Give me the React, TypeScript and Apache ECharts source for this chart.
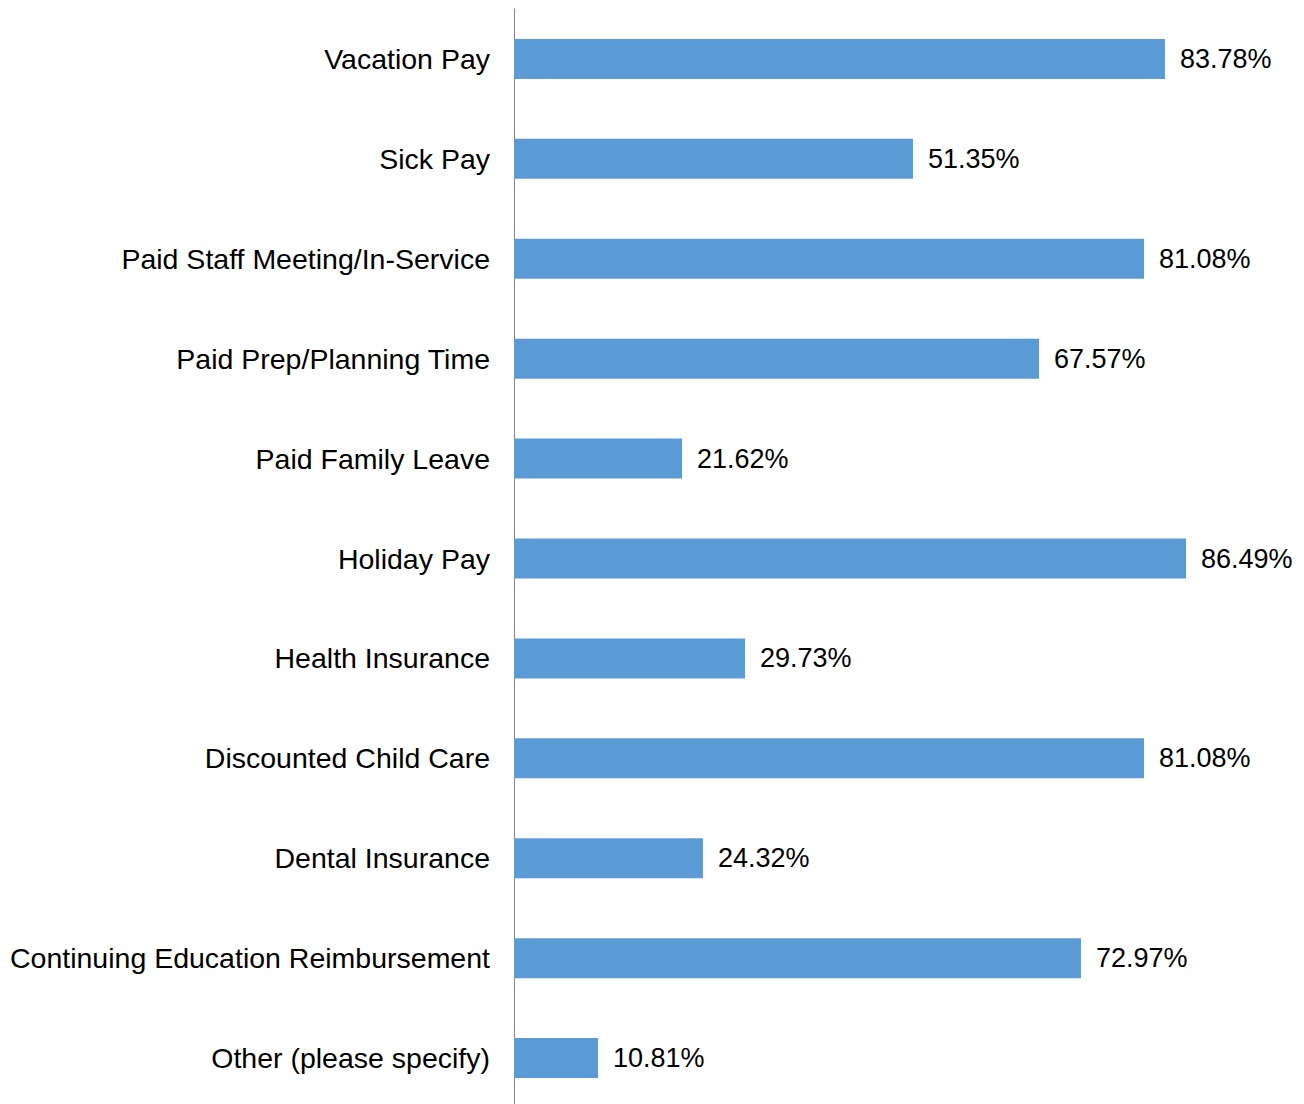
import React, { useEffect, useRef } from "react";
import * as echarts from "echarts";

const categories = [
  "Vacation Pay",
  "Sick Pay",
  "Paid Staff Meeting/In-Service",
  "Paid Prep/Planning Time",
  "Paid Family Leave",
  "Holiday Pay",
  "Health Insurance",
  "Discounted Child Care",
  "Dental Insurance",
  "Continuing Education Reimbursement",
  "Other (please specify)",
];

const values = [83.78, 51.35, 81.08, 67.57, 21.62, 86.49, 29.73, 81.08, 24.32, 72.97, 10.81];

export default function App() {
  const ref = useRef<HTMLDivElement>(null);
  useEffect(() => {
    if (!ref.current) return;
    const chart = echarts.init(ref.current, undefined, { renderer: "svg" });
    chart.setOption({
      animation: false,
      backgroundColor: "#ffffff",
      grid: { left: 514, right: 13, top: 9, bottom: 2, containLabel: false },
      xAxis: {
        type: "value",
        min: 0,
        max: 100,
        show: false,
      },
      yAxis: {
        type: "category",
        data: categories,
        inverse: true,
        axisLine: { show: true, lineStyle: { color: "#868686", width: 1 } },
        axisTick: { show: false },
        splitLine: { show: false },
        axisLabel: {
          color: "#000000",
          fontSize: 28.5,
          fontFamily: "Liberation Sans, Arial, sans-serif",
          margin: 24,
        },
      },
      series: [
        {
          type: "bar",
          data: values,
          barWidth: 40,
          itemStyle: { color: "#5B9BD5" },
          label: {
            show: true,
            position: "right",
            distance: 15,
            color: "#000000",
            fontSize: 27,
            fontFamily: "Liberation Sans, Arial, sans-serif",
            formatter: (p: any) => p.value.toFixed(2) + "%",
          },
        },
      ],
    });
    return () => chart.dispose();
  }, []);
  return (
    <div style={{ position: "fixed", top: 0, left: 0, width: 1304, height: 1104, overflow: "hidden", background: "#fff" }}>
      <div ref={ref} style={{ width: 1304, height: 1110 }} />
    </div>
  );
}
